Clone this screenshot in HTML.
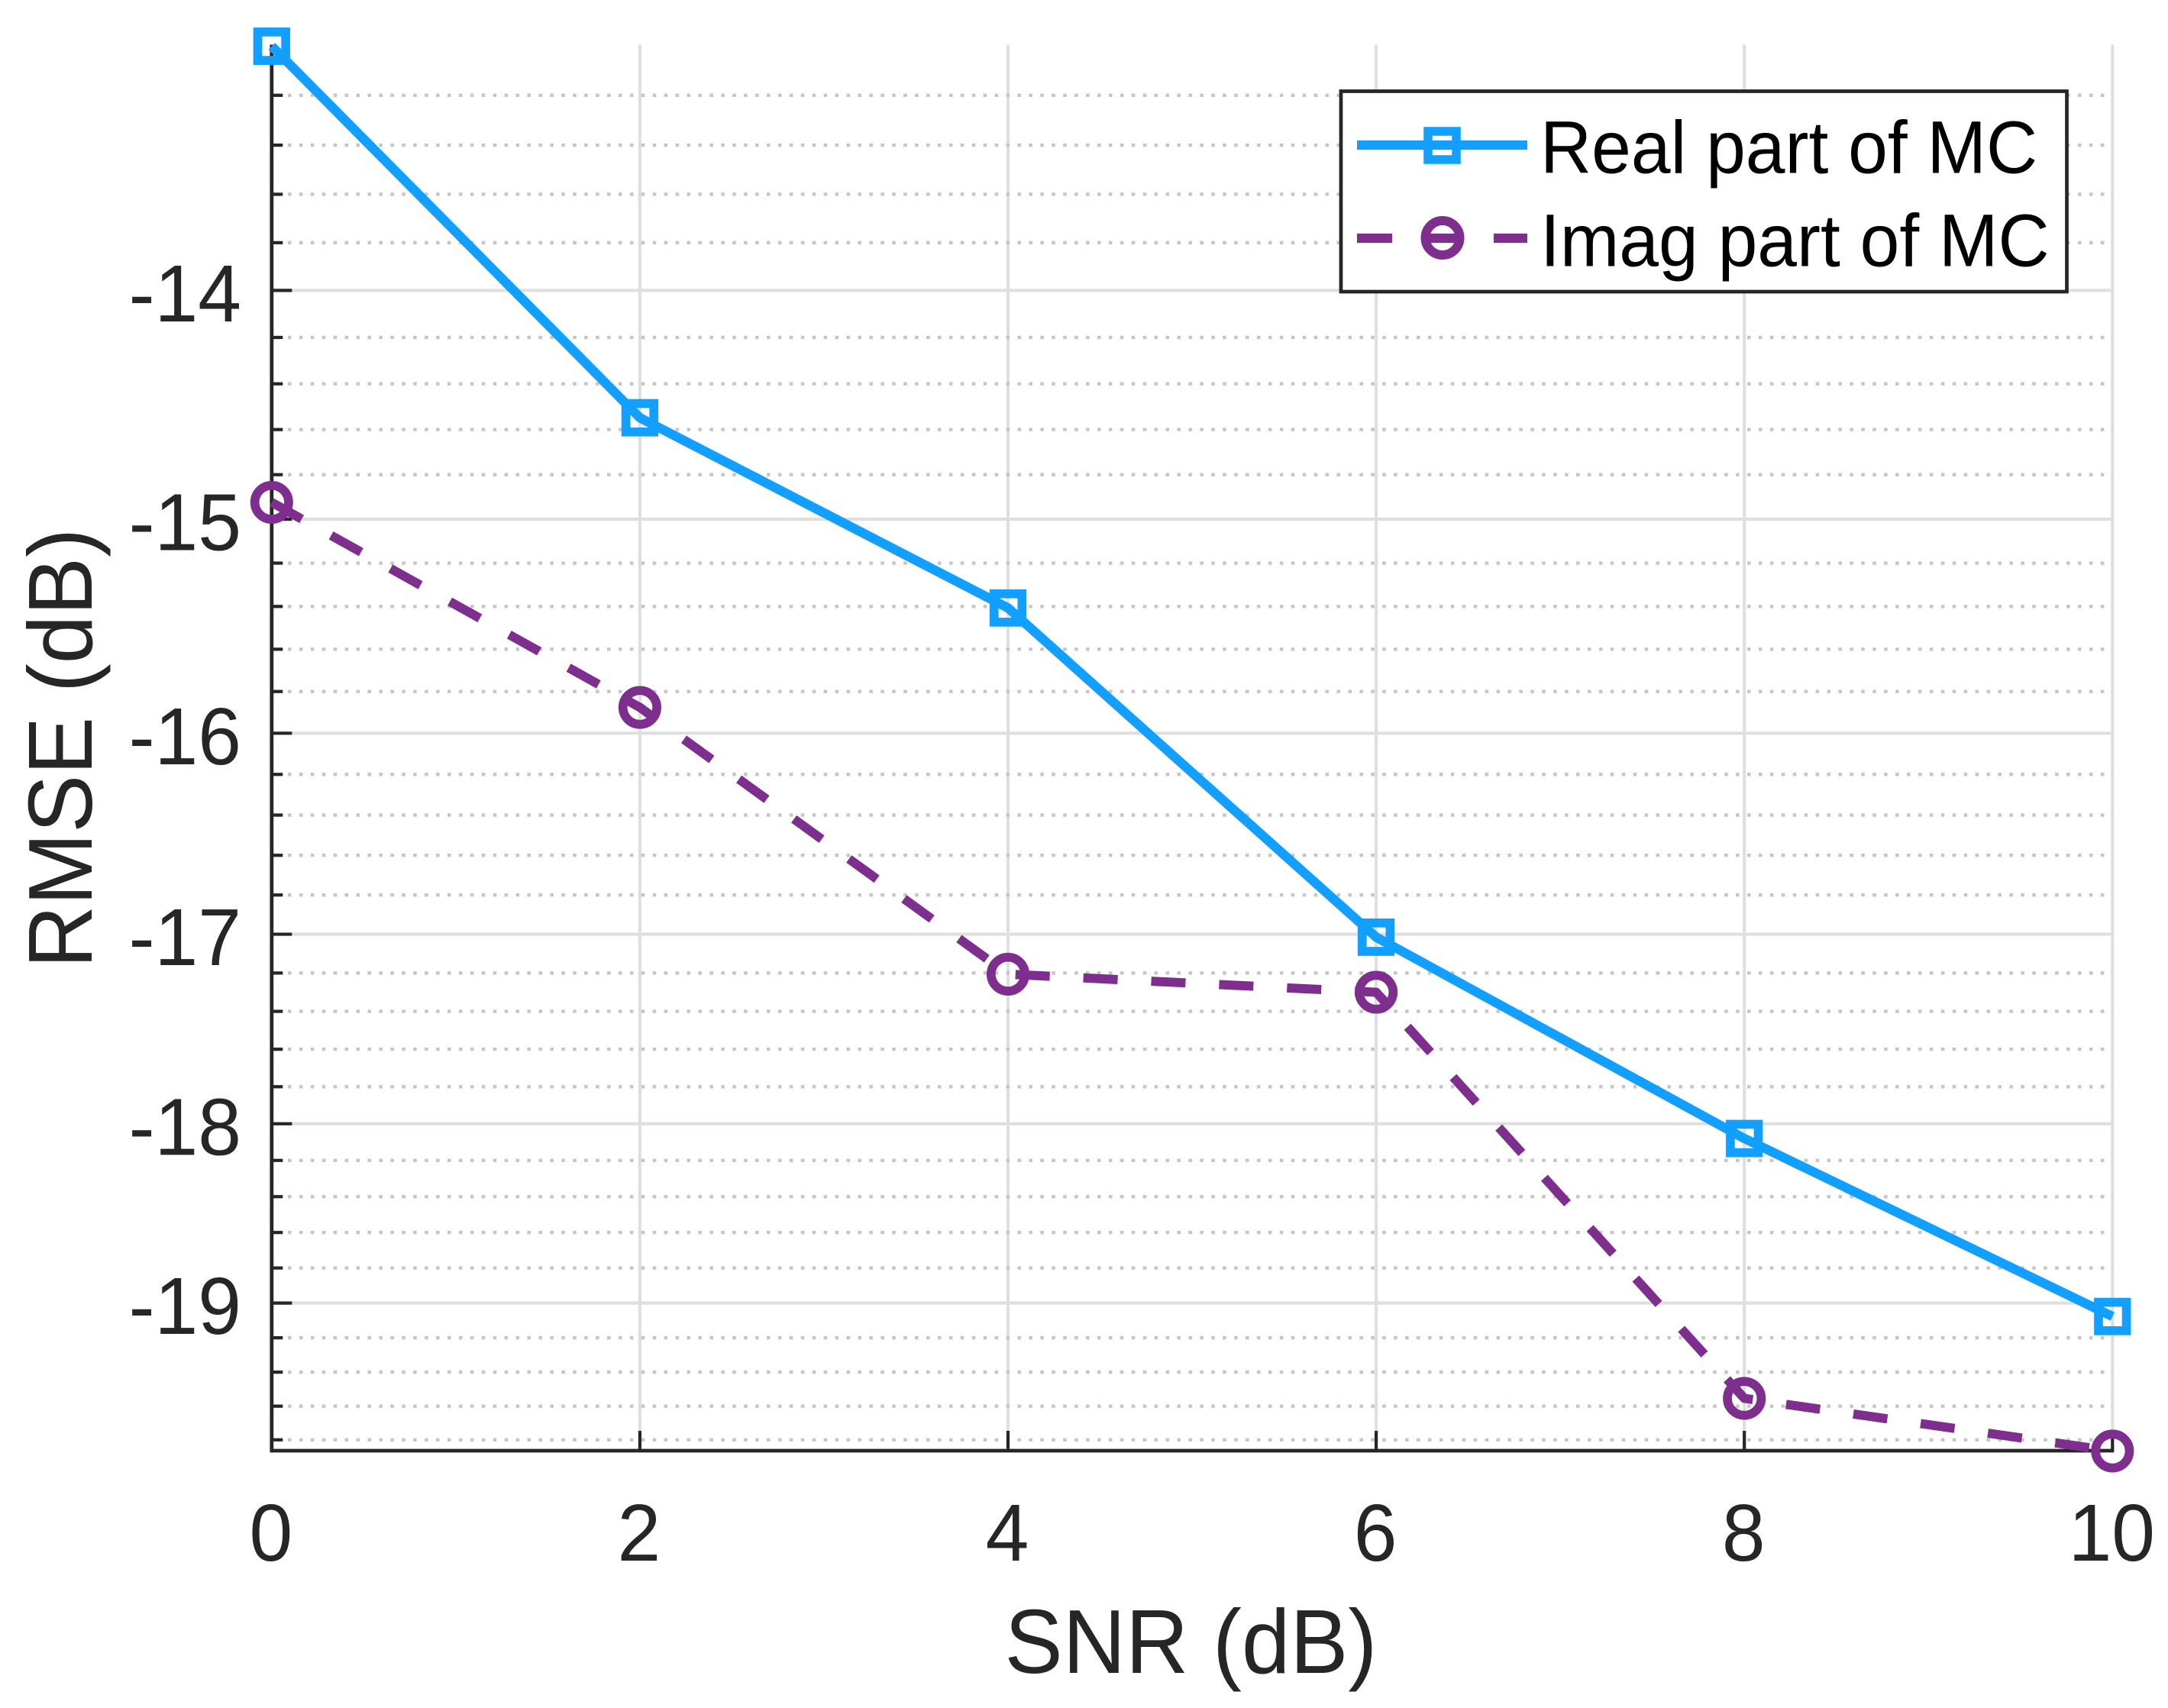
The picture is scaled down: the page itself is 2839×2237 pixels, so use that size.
<!DOCTYPE html>
<html lang="en">
<head>
<meta charset="utf-8">
<title>RMSE vs SNR</title>
<style>
html,body{margin:0;padding:0;background:#fff;}
svg{display:block;font-family:"Liberation Sans",Arial,sans-serif;}
</style>
</head>
<body>
<svg id="chart" xmlns="http://www.w3.org/2000/svg" width="2839" height="2237" viewBox="0 0 2839 2237">
  <rect width="2839" height="2237" fill="#ffffff"/>
  <g id="grid-major"></g>
  <g id="grid-minor"></g>
  <g id="axes"></g>
  <g id="series"></g>
  <g>
    <rect x="1756" y="119.5" width="950.5" height="262.5" fill="#ffffff" stroke="#262626" stroke-width="4.7"/>
    <g>
      <line x1="1777" y1="190" x2="2000" y2="190" stroke="#139fff" stroke-width="12.3"/>
      <rect x="1870" y="172" width="37" height="37" fill="none" stroke="#139fff" stroke-width="11.5"/>
      <text transform="translate(2017 226.7) scale(1 1.05)" font-size="93" fill="#000000">Real part of MC</text>
    </g>
    <g>
      <line x1="1777" y1="312" x2="2000" y2="312" stroke="#7e2f8e" stroke-width="12.3" stroke-dasharray="46 43.5"/>
      <circle cx="1889" cy="311.5" r="22.5" fill="none" stroke="#7e2f8e" stroke-width="12"/>
      <text transform="translate(2017 348.7) scale(1 1.05)" font-size="93" fill="#000000">Imag part of MC</text>
    </g>
  </g>
  <text transform="translate(1559.5 2191) scale(1 1.045)" font-size="114" fill="#262626" text-anchor="middle">SNR (dB)</text>
  <text transform="translate(120 980) rotate(-90) scale(1 1.045)" font-size="114" fill="#262626" text-anchor="middle">RMSE (dB)</text>
</svg>
<script>
const snrValues = [0, 2, 4, 6, 8, 10];
const realRmse = [-13.006, -14.548, -15.407, -17.015, -18.08, -19.077];
const imagRmse = [-14.924, -15.876, -17.206, -17.30, -19.554, -19.867];
const xTickValues = [0, 2, 4, 6, 8, 10];
const yTickValues = [-14, -15, -16, -17, -18, -19];
const yMinorValues = [-13.2, -13.4, -13.6, -13.8, -14.2, -14.4, -14.6, -14.8, -15.2, -15.4, -15.6, -15.8, -16.2, -16.4, -16.6, -16.8, -17.2, -17.4, -17.6, -17.8, -18.2, -18.4, -18.6, -18.8, -19.2, -19.4, -19.6, -19.8];
const xDomain = [0, 10];
const yDomain = [-13, -19.865];

const NS = 'http://www.w3.org/2000/svg';
const plotLeft = 355.8, plotRight = 2766.3, plotTop = 58.5, plotBottom = 1900;

function xScale(v) {
  return plotLeft + (v - xDomain[0]) / (xDomain[1] - xDomain[0]) * (plotRight - plotLeft);
}
function yScale(v) {
  const a = Math.log(Math.abs(yDomain[0]));
  const b = Math.log(Math.abs(yDomain[1]));
  return plotTop + (Math.log(Math.abs(v)) - a) / (b - a) * (plotBottom - plotTop);
}
function make(tag, parent, attrs) {
  const el = document.createElementNS(NS, tag);
  for (const k in attrs) el.setAttribute(k, attrs[k]);
  parent.appendChild(el);
  return el;
}

const gridMajor = document.getElementById('grid-major');
const gridMinor = document.getElementById('grid-minor');
const axes = document.getElementById('axes');
const series = document.getElementById('series');

yMinorValues.forEach(function (v) {
  const y = yScale(v);
  const g = make('line', gridMinor, {x1: 362, y1: y, x2: plotRight, y2: y, stroke: '#c6c6c6', 'stroke-width': 4.4, 'stroke-dasharray': '4.6 10.33'});
  
  
});
yTickValues.forEach(function (v) {
  const y = yScale(v);
  const g = make('line', gridMajor, {x1: plotLeft, y1: y, x2: plotRight, y2: y, stroke: '#dfdfdf', 'stroke-width': 4.2});
  
  
});
xTickValues.forEach(function (v) {
  const x = xScale(v);
  const g = make('line', gridMajor, {x1: x, y1: plotTop, x2: x, y2: plotBottom, stroke: '#dfdfdf', 'stroke-width': 4.2});
  
  
});

const yAxisLine = make('line', axes, {x1: plotLeft, y1: plotTop, x2: plotLeft, y2: plotBottom + 2.4, stroke: '#262626', 'stroke-width': 4.8});


const xAxisLine = make('line', axes, {x1: plotLeft, y1: plotBottom, x2: plotRight + 2, y2: plotBottom, stroke: '#262626', 'stroke-width': 4.8});



yMinorValues.forEach(function (v) {
  const y = yScale(v);
  const t = make('line', axes, {x1: plotLeft, y1: y, x2: plotLeft + 14.5, y2: y, stroke: '#262626', 'stroke-width': 4.2});
  
  
});
yTickValues.forEach(function (v) {
  const y = yScale(v);
  const t = make('line', axes, {x1: plotLeft, y1: y, x2: plotLeft + 26.5, y2: y, stroke: '#262626', 'stroke-width': 4.2});
  
  
  const lab = make('text', axes, {transform: 'translate(316 ' + (y + 40.5) + ') scale(1 1.035)', 'font-size': 102, fill: '#262626', 'text-anchor': 'end'});
  
  
  lab.textContent = String(v);
});
xTickValues.forEach(function (v) {
  const x = xScale(v);
  const t = make('line', axes, {x1: x, y1: plotBottom, x2: x, y2: plotBottom - 26, stroke: '#262626', 'stroke-width': 4.2});
  
  
  const lab = make('text', axes, {transform: 'translate(' + (x - 1) + ' 2044) scale(1 1.035)', 'font-size': 102, fill: '#262626', 'text-anchor': 'middle'});
  
  
  lab.textContent = String(v);
});

function pointsOf(values) {
  return values.map(function (v, i) {
    return xScale(snrValues[i]).toFixed(2) + ',' + yScale(v).toFixed(2);
  }).join(' ');
}

const realLine = make('polyline', series, {points: pointsOf(realRmse), fill: 'none', stroke: '#139fff', 'stroke-width': 12.3, 'stroke-linejoin': 'round'});


realRmse.forEach(function (v, i) {
  const cx = xScale(snrValues[i]), cy = yScale(v);
  const m = make('rect', series, {x: cx - 18.3, y: cy - 18.6, width: 36.6, height: 37.2, fill: 'none', stroke: '#139fff', 'stroke-width': 11.7});
  
  
});

const imagLine = make('polyline', series, {points: pointsOf(imagRmse), fill: 'none', stroke: '#7e2f8e', 'stroke-width': 12, 'stroke-linejoin': 'round', 'stroke-dasharray': '45 44'});


imagRmse.forEach(function (v, i) {
  const cx = xScale(snrValues[i]), cy = yScale(v);
  const m = make('circle', series, {cx: cx, cy: cy, r: 22.2, fill: 'none', stroke: '#7e2f8e', 'stroke-width': 11.7});
  
  
});
</script>
</body>
</html>
